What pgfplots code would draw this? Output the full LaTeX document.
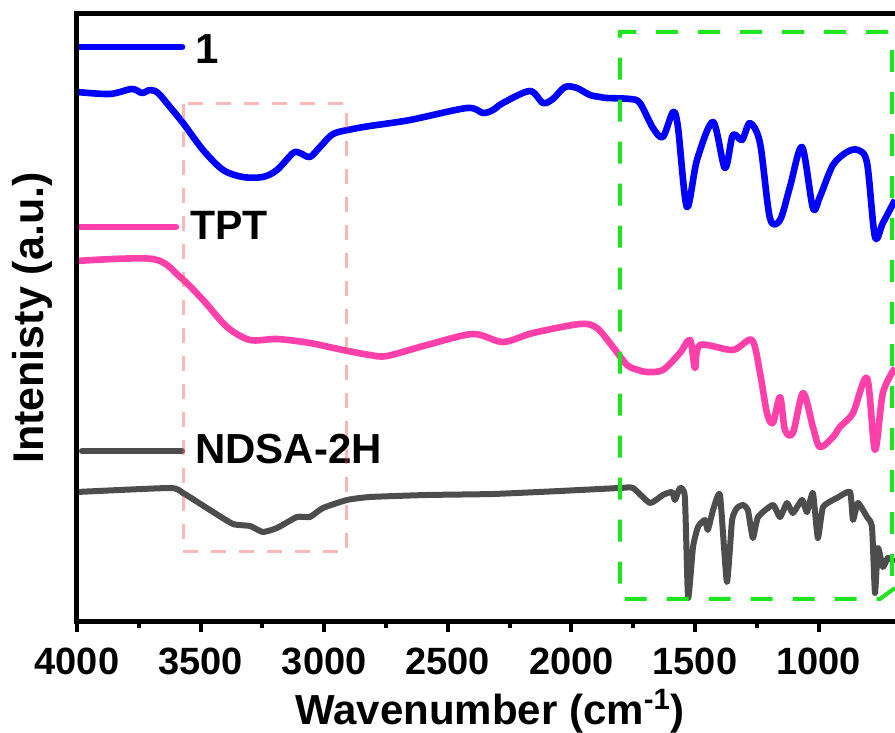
\documentclass[border=0pt]{standalone}
\usepackage{fontspec}
\setmainfont{Liberation Sans}
\usepackage{pgfplots}
\pgfplotsset{compat=1.18}
\definecolor{cblue}{RGB}{0,0,255}
\definecolor{cpink}{RGB}{255,64,170}
\definecolor{cgray}{RGB}{77,77,77}
\definecolor{cgreen}{RGB}{30,230,30}
\definecolor{cred}{RGB}{240,80,80}
\begin{document}
\begin{tikzpicture}
\begin{axis}[
  scale only axis, width=409pt, height=304pt,
  x dir=reverse, xmin=691, xmax=4000,
  ymin=111, ymax=719,
  xtick={1000,1500,2000,2500,3000,3500,4000},
  minor x tick num=1,
  ytick=\empty,
  xtick pos=left,
  tick align=outside,
  major tick length=5pt, minor tick length=3pt,
  tick style={black, line width=2pt},
  axis line style={draw=none},
  /pgf/number format/1000 sep={},
  /pgf/number format/assume math mode=true,
  tick label style={font=\fontsize{19}{22}\selectfont\bfseries},
  xticklabel style={yshift=-4.5pt},
  xlabel={Wavenumber (cm\textsuperscript{-1})},
  ylabel={Intenisty (a.u.)},
  every axis x label/.style={at={(axis description cs:0.505,-0.168)}, anchor=base, font=\fontsize{21}{25}\selectfont\bfseries},
  every axis y label/.style={at={(axis description cs:-0.054,0.5)}, anchor=center, rotate=90, font=\fontsize{21.5}{25}\selectfont\bfseries},
  clip=true,
]
% curve 1
\addplot[cblue, line width=3.3pt, line join=round, smooth, tension=0.5] coordinates {
(4000,641) (3867,639) (3778,644) (3737,640) (3705,643) (3672,640) (3624,626) (3571,610)
(3490,583) (3409,563) (3329,556) (3248,556) (3191,563) (3126,580) (3098,580) (3058,576)
(3017,586) (2964,599) (2884,604) (2815,607) (2653,613) (2422,625) (2358,620) (2317,623)
(2277,630) (2168,642) (2115,630) (2075,634) (2026,646) (1978,645) (1925,638) (1884,636)
(1856,635) (1763,634) (1723,630) (1670,605) (1630,596) (1589,621) (1569,606) (1533,526)
(1492,573) (1427,611) (1379,565) (1347,598) (1310,593) (1278,610) (1237,590) (1197,515)
(1156,513) (1116,546) (1067,586) (1023,525) (995,536) (942,568) (885,581) (841,583)
(804,570) (772,496) (740,510) (691,533)
};
% TPT
\addplot[cpink, line width=3.3pt, line join=round, smooth, tension=0.5] coordinates {
(4000,472) (3693,474) (3583,456) (3490,433) (3393,406) (3300,393) (3191,394) (3058,390)
(2924,383) (2815,378) (2746,377) (2584,388) (2398,399) (2277,391) (2155,400) (1965,409)
(1897,405) (1832,386) (1775,368) (1730,363) (1694,361) (1630,363) (1561,380) (1520,393)
(1500,365) (1480,388) (1347,383) (1270,393) (1237,360) (1209,320) (1185,310) (1156,336)
(1136,303) (1104,300) (1063,340) (1023,306) (995,286) (942,296) (914,306) (861,320)
(804,355) (772,283) (740,340) (691,365)
};
% NDSA-2H
\addplot[cgray, line width=3pt, line join=round, smooth, tension=0.3] coordinates {
(4000,241) (3624,245) (3571,240) (3462,223) (3369,209) (3300,207) (3248,201) (3191,205)
(3110,216) (3058,216) (3005,225) (2908,233) (2815,236) (2584,238) (2317,239) (2046,242)
(1804,245) (1751,245) (1682,230) (1630,238) (1593,241) (1581,233) (1561,245) (1541,236)
(1528,135) (1508,186) (1488,206) (1460,213) (1448,203) (1427,223) (1399,238) (1371,151)
(1350,213) (1330,225) (1306,228) (1286,223) (1266,195) (1245,216) (1185,228) (1156,216)
(1128,230) (1104,220) (1067,233) (1047,221) (1023,240) (1003,195) (982,226) (926,235)
(873,241) (861,213) (841,230) (804,216) (784,206) (772,140) (760,185) (740,166)
(720,175) (691,171)
};
% legend samples
\addplot[cblue, line width=3.3pt, line cap=round, forget plot] coordinates {(3988,686) (3575,686)};
\addplot[cpink, line width=3.3pt, line cap=round, forget plot] coordinates {(4000,506) (3600,506)};
\addplot[cgray, line width=3pt, line cap=round, forget plot] coordinates {(3980,282) (3575,282)};
\node[anchor=west, inner sep=0pt, font=\fontsize{21}{25}\selectfont\bfseries] at (axis cs:3523,684) {1};
\node[anchor=west, inner sep=0pt, font=\fontsize{20.5}{25}\selectfont\bfseries] at (axis cs:3543,508) {TPT};
\node[anchor=west, inner sep=0pt, font=\fontsize{21}{25}\selectfont\bfseries] at (axis cs:3523,284) {NDSA-2H};
% boxes
\draw[cred, draw opacity=0.4, line width=1.5pt, dash pattern=on 7.5pt off 6.5pt]
  (axis cs:3571,629) rectangle (axis cs:2908,181);
\draw[cgreen, line width=2pt, dash pattern=on 11pt off 10pt]
  (axis cs:691,145) -- (axis cs:752,134) -- (axis cs:1804,134) -- (axis cs:1804,701) -- (axis cs:691,701);
\draw[cgreen, line width=2pt, dash pattern=on 11pt off 10pt]
  (axis cs:703,683) -- (axis cs:703,150);
\end{axis}
\draw[black, line width=2.5pt]
  (current axis.north east) -- (current axis.north west) -- (current axis.south west) -- (current axis.south east);
\pgfresetboundingbox
\path[use as bounding box] ([xshift=-38.5pt,yshift=-55.5pt]current axis.south west) rectangle ([yshift=7pt]current axis.north east);
\end{tikzpicture}
\end{document}
